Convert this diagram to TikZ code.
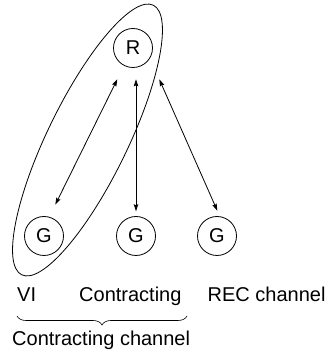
\documentclass[tikz,border=0pt]{standalone}
\usepackage{fontspec}
\setmainfont{Liberation Sans}
\usetikzlibrary{arrows.meta,calc,decorations.pathreplacing}
\begin{document}
\begin{tikzpicture}[x=1pt,y=1pt,
  font=\fontsize{20}{24}\selectfont,
  ent/.style={circle,draw,line width=0.8pt,minimum size=39pt,inner sep=0pt},
  link/.style={line width=0.8pt,{Stealth[length=7pt,width=4.5pt,inset=1pt]}-{Stealth[length=7pt,width=4.5pt,inset=1pt]}},
  lbl/.style={anchor=base west,inner sep=0pt}]
\useasboundingbox (0,0) rectangle (329,356);
\node[ent] (R) at (133,308) {R};
\node[ent] (G1) at (44,120) {G};
\node[ent] (G2) at (136,120) {G};
\node[ent] (G3) at (217,120) {G};
\draw[line width=0.8pt,rotate around={64:(87.5,216)}] (87.5,216) ellipse [x radius=150, y radius=40];
\coordinate (a1s) at ($(R)+(-15.7,-31.3)$);
\coordinate (a2s) at ($(R)+(3,-31.3)$);
\coordinate (a3s) at ($(R)+(26.3,-31.3)$);
\coordinate (a1e) at ($(G1)+(11.3,31.3)$);
\coordinate (a2e) at ($(G2)+(0,24.7)$);
\coordinate (a3e) at ($(G3)+(0.3,25.3)$);
\draw[link] (a1s) -- (a1e);
\draw[link] (a2s) -- (a2e);
\draw[link] (a3s) -- (a3e);
\node[lbl] (vi) at (17,54) {VI};
\node[lbl] (con) at (79,54) {Contracting};
\node[lbl] (rec) at (207.5,54) {REC channel};
\coordinate (bl) at (17,40);
\coordinate (br) at (187,40);
\draw[line width=0.6pt,decorate,decoration={brace,mirror,amplitude=9pt}] (bl) -- (br);
\node[lbl] (cc) at (12,10) {Contracting channel};
\end{tikzpicture}
\end{document}
